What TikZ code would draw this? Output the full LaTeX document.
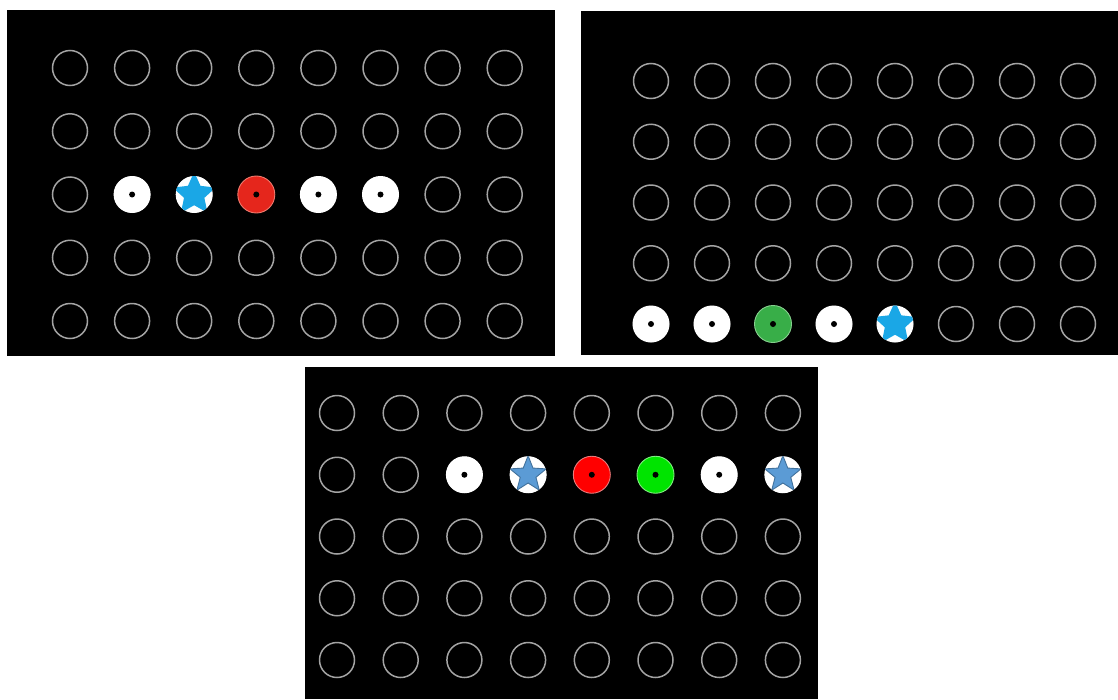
\documentclass[tikz,border=0pt]{standalone}
\usepackage{tikz}
\usetikzlibrary{shapes.geometric,positioning}
\definecolor{ring}{HTML}{A4A4A4}
\definecolor{skyblue}{HTML}{1AA7E6}
\definecolor{steel}{HTML}{5B9BD5}
\definecolor{steeledge}{HTML}{41719C}
\definecolor{redA}{HTML}{E5261C}
\definecolor{redAedge}{HTML}{F07A6E}
\definecolor{redC}{HTML}{FF0000}
\definecolor{redCedge}{HTML}{E67C7C}
\definecolor{greenB}{HTML}{38AE48}
\definecolor{greenBedge}{HTML}{86D08E}
\definecolor{greenC}{HTML}{00E400}
\definecolor{greenCedge}{HTML}{80EC80}
\tikzset{slot/.style={circle,draw=ring,line width=1.5pt,minimum size=35pt,inner sep=0pt},lit/.style={circle,fill=white,minimum size=37pt,inner sep=0pt,path picture={\fill[black] (path picture bounding box.center) circle (3pt);}},redlit/.style={lit,fill=redA,draw=redAedge,line width=.9pt},redlitC/.style={lit,fill=redC,draw=redCedge,line width=.9pt},greenlit/.style={lit,fill=greenB,draw=greenBedge,line width=.9pt},greenlitC/.style={lit,fill=greenC,draw=greenCedge,line width=.9pt},starlit/.style={circle,fill=white,minimum size=37pt,inner sep=0pt,path picture={\node[star,star points=5,star point ratio=2.1,fill=skyblue,minimum size=45pt,inner sep=0pt] at (path picture bounding box.center) {};}},starlitC/.style={circle,fill=white,minimum size=37pt,inner sep=0pt,path picture={\node[star,star points=5,star point ratio=2.3,fill=steel,draw=steeledge,line width=.9pt,minimum size=38pt,inner sep=0pt] at (path picture bounding box.center) {};}}}
\begin{document}
\begin{tikzpicture}[x=1pt,y=-1pt]
\useasboundingbox (0,0) rectangle (1118,699);
% panels
\fill[black] (7,10) rectangle (555,356);
\fill[black] (581,11) rectangle (1118,355);
\fill[black] (305,367) rectangle (818,699);
% empty wells
\foreach \r in {1,...,5}
  \foreach \c in {1,...,8} {
    \node[slot] (a-\r-\c) at ({70+62.1*(\c-1)},{68+63.25*(\r-1)}) {};
    \node[slot] (b-\r-\c) at ({651+61*(\c-1)},{81+60.75*(\r-1)}) {};
    \node[slot] (c-\r-\c) at ({337+63.7*(\c-1)},{413+61.75*(\r-1)}) {};
  }
% panel A, row 3
\node[lit] (a-w1) at (a-3-2) {};
\node[starlit] (a-s) at (a-3-3) {};
\node[redlit] (a-r) at (a-3-4) {};
\node[lit] (a-w2) at (a-3-5) {};
\node[lit] (a-w3) at (a-3-6) {};
% panel B, row 5
\node[lit] (b-w1) at (b-5-1) {};
\node[lit] (b-w2) at (b-5-2) {};
\node[greenlit] (b-g) at (b-5-3) {};
\node[lit] (b-w3) at (b-5-4) {};
\node[starlit] (b-s) at (b-5-5) {};
% panel C, row 2
\node[lit] (c-w1) at (c-2-3) {};
\node[starlitC] (c-s1) at (c-2-4) {};
\node[redlitC] (c-r) at (c-2-5) {};
\node[greenlitC] (c-g) at (c-2-6) {};
\node[lit] (c-w2) at (c-2-7) {};
\node[starlitC] (c-s2) at (c-2-8) {};
\end{tikzpicture}
\end{document}
